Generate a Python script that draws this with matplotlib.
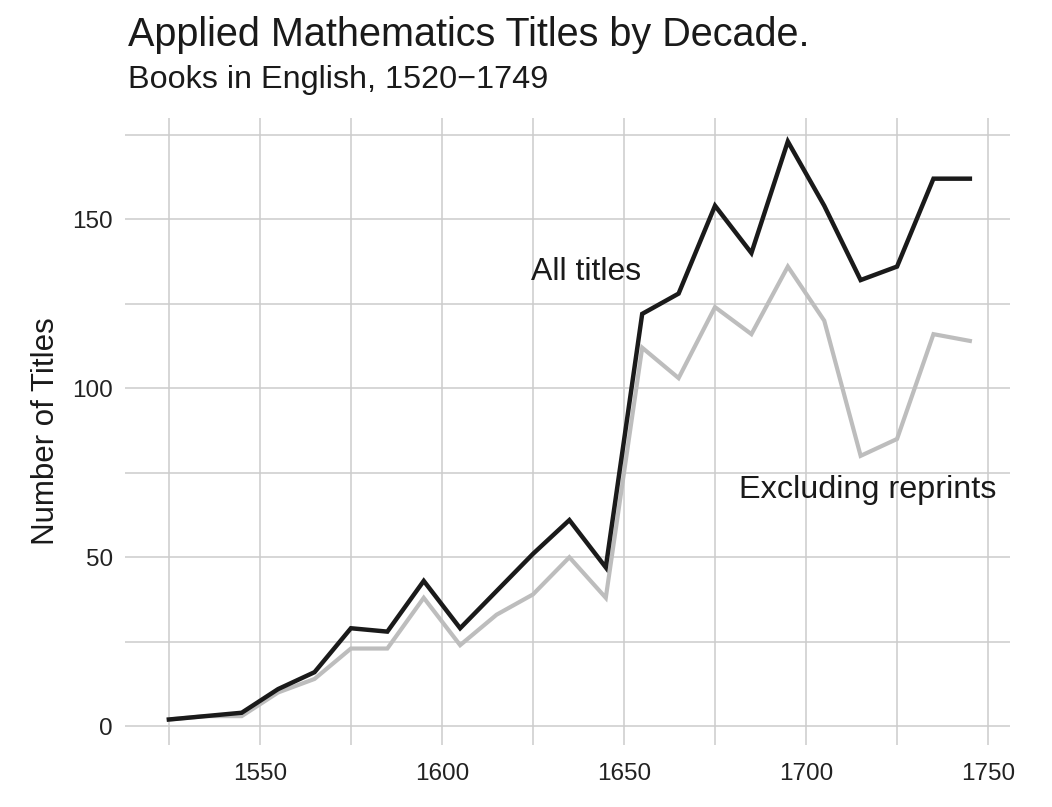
import matplotlib.pyplot as plt

plt.rcParams['font.family'] = ['Liberation Sans', 'DejaVu Sans']

# decade midpoints
decades = [1525, 1535, 1545, 1555, 1565, 1575, 1585, 1595, 1605, 1615, 1625, 1635,
           1645, 1655, 1665, 1675, 1685, 1695, 1705, 1715, 1725, 1735, 1745]
all_titles = [2, 3, 4, 11, 16, 29, 28, 43, 29, 40, 51, 61,
              47, 122, 128, 154, 140, 173, 154, 132, 136, 162, 162]
excl_reprints = [2, 3, 3, 10, 14, 23, 23, 38, 24, 33, 39, 50,
                 38, 112, 103, 124, 116, 136, 120, 80, 85, 116, 114]

fig = plt.figure(figsize=(10.52, 8.07), dpi=100)
ax = fig.add_axes([0.119, 0.077, 0.841, 0.777])

ax.plot(decades, excl_reprints, color='#bdbdbd', lw=3.0, solid_joinstyle='miter')
ax.plot(decades, all_titles, color='#1a1a1a', lw=3.2, solid_joinstyle='miter')

ax.text(1624.5, 134.5, 'All titles', fontsize=23, va='center', ha='left', color='#1a1a1a')
ax.text(1681.5, 70, 'Excluding reprints', fontsize=23.3, va='center', ha='left', color='#1a1a1a')

ax.set_xlim(1513, 1756)
ax.set_ylim(-5.5, 180)
ax.set_xticks(range(1525, 1751, 25), minor=True)
ax.set_xticks([1550, 1600, 1650, 1700, 1750])
ax.set_yticks(range(0, 176, 25), minor=True)
ax.set_yticks([0, 50, 100, 150])
ax.grid(True, which='both', color='#cccccc', lw=1.1)
ax.set_axisbelow(True)
ax.tick_params(which='both', length=0, labelsize=17.5, colors='#222222')
ax.tick_params(axis='x', pad=13)
ax.tick_params(axis='y', pad=9)
for s in ax.spines.values():
    s.set_visible(False)

ax.set_ylabel('Number of Titles', fontsize=22.5, labelpad=8, color='#1a1a1a')

fig.text(0.1217, 0.957, 'Applied Mathematics Titles by Decade.', fontsize=28.5,
         va='center', ha='left', color='#1a1a1a')
fig.text(0.1217, 0.901, 'Books in English, 1520\u22121749', fontsize=23.3,
         va='center', ha='left', color='#1a1a1a')

fig.savefig('out.png', dpi=100)
